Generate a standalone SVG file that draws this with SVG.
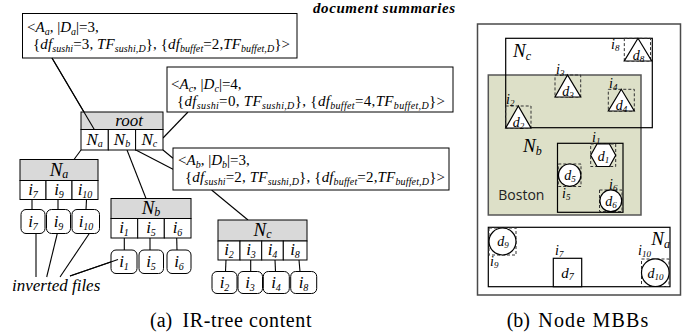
<svg xmlns="http://www.w3.org/2000/svg" width="694" height="336" viewBox="0 0 694 336">
<style>
.t{font-family:"Liberation Serif","Times New Roman",serif;font-size:15px;fill:#000}
.i{font-style:italic}
.s{font-style:italic;font-size:10px}
.big{font-size:17px}
.lbl{font-size:14px}
.lbs{font-style:italic;font-size:9px}
.cap{font-size:20px}
.reg{font-size:19px;font-style:italic}
.regs{font-size:12px;font-style:italic}
.box{fill:#fff;stroke:#000;stroke-width:1}
.hd{fill:#d9d9d9;stroke:#000;stroke-width:1}
.inv{fill:#fff;stroke:#000;stroke-width:1}
.ln{stroke:#000;stroke-width:1.1;fill:none}
.dash{fill:none;stroke:#333;stroke-width:1;stroke-dasharray:3,2}
.shp{fill:#fff;stroke:#000;stroke-width:1.2}
.mbr{fill:none;stroke:#000;stroke-width:1.2}
</style>
<rect width="694" height="336" fill="#fff"/>

<!-- connectors -->
<g id="connectors">
<line class="ln" x1="52" y1="58" x2="94.3" y2="129.5"/>
<line class="ln" x1="188" y1="112" x2="163" y2="138"/>
<line class="ln" x1="133" y1="148.5" x2="173" y2="169.3"/>
<line class="ln" x1="81" y1="150" x2="74" y2="159.5"/>
<line class="ln" x1="127" y1="150" x2="146" y2="198.5"/>
<line class="ln" x1="163" y1="150" x2="173" y2="158.2"/>
<line class="ln" x1="211.6" y1="190" x2="248" y2="220"/>
<line class="ln" x1="32" y1="199.5" x2="32" y2="209.5"/>
<line class="ln" x1="58" y1="199.5" x2="58" y2="209.5"/>
<line class="ln" x1="86.5" y1="199.5" x2="86" y2="209.5"/>
<line class="ln" x1="124.3" y1="238" x2="124.3" y2="250"/>
<line class="ln" x1="150" y1="238" x2="150" y2="250"/>
<line class="ln" x1="176.7" y1="238" x2="177" y2="250"/>
<line class="ln" x1="226" y1="260" x2="225.5" y2="271.5"/>
<line class="ln" x1="250.7" y1="260" x2="250.7" y2="271.5"/>
<line class="ln" x1="275" y1="260" x2="275.5" y2="271.5"/>
<line class="ln" x1="299" y1="260" x2="300" y2="271.5"/>
<line class="ln" x1="36" y1="233.5" x2="36" y2="277"/>
<line class="ln" x1="46.7" y1="277" x2="57.3" y2="233.5"/>
<line class="ln" x1="60" y1="277" x2="89.3" y2="233.5"/>
<line class="ln" x1="70" y1="276" x2="118" y2="259.5"/>
</g>

<text x="455" y="13" class="t i" font-weight="bold" text-anchor="end" textLength="142">document summaries</text>

<!-- summary boxes -->
<g id="summaryA">
<rect x="22.5" y="13.5" width="274.5" height="44.5" class="box"/>
<text x="27" y="32" class="t">&lt;<tspan class="i">A</tspan><tspan class="s" dy="3">a</tspan><tspan dy="-3">, |</tspan><tspan class="i">D</tspan><tspan class="s" dy="3">a</tspan><tspan dy="-3">|=3,</tspan></text>
<text x="33" y="49" class="t" textLength="257" lengthAdjust="spacing">{<tspan class="i">df</tspan><tspan class="s" dy="3">sushi</tspan><tspan dy="-3">=3, </tspan><tspan class="i">TF</tspan><tspan class="s" dy="3">sushi,D</tspan><tspan dy="-3">}, {</tspan><tspan class="i">df</tspan><tspan class="s" dy="3">buffet</tspan><tspan dy="-3">=2,</tspan><tspan class="i">TF</tspan><tspan class="s" dy="3">buffet,D</tspan><tspan dy="-3">}&gt;</tspan></text>
</g>
<g id="summaryC">
<rect x="167" y="67" width="286" height="45" class="box"/>
<text x="171" y="89" class="t">&lt;<tspan class="i">A</tspan><tspan class="s" dy="3">c</tspan><tspan dy="-3">, |</tspan><tspan class="i">D</tspan><tspan class="s" dy="3">c</tspan><tspan dy="-3">|=4,</tspan></text>
<text x="177" y="106" class="t" textLength="268" lengthAdjust="spacing">{<tspan class="i">df</tspan><tspan class="s" dy="3">sushi</tspan><tspan dy="-3">=0, </tspan><tspan class="i">TF</tspan><tspan class="s" dy="3">sushi,D</tspan><tspan dy="-3">}, {</tspan><tspan class="i">df</tspan><tspan class="s" dy="3">buffet</tspan><tspan dy="-3">=4,</tspan><tspan class="i">TF</tspan><tspan class="s" dy="3">buffet,D</tspan><tspan dy="-3">}&gt;</tspan></text>
</g>
<g id="summaryB">
<rect x="173" y="148" width="276" height="42" class="box"/>
<text x="178" y="165" class="t">&lt;<tspan class="i">A</tspan><tspan class="s" dy="3">b</tspan><tspan dy="-3">, |</tspan><tspan class="i">D</tspan><tspan class="s" dy="3">b</tspan><tspan dy="-3">|=3,</tspan></text>
<text x="185" y="182" class="t" textLength="260" lengthAdjust="spacing">{<tspan class="i">df</tspan><tspan class="s" dy="3">sushi</tspan><tspan dy="-3">=2, </tspan><tspan class="i">TF</tspan><tspan class="s" dy="3">sushi,D</tspan><tspan dy="-3">}, {</tspan><tspan class="i">df</tspan><tspan class="s" dy="3">buffet</tspan><tspan dy="-3">=2,</tspan><tspan class="i">TF</tspan><tspan class="s" dy="3">buffet,D</tspan><tspan dy="-3">}&gt;</tspan></text>
</g>

<!-- root node -->
<g id="root">
<rect x="81" y="112" width="82" height="17.5" class="hd"/>
<rect x="81" y="129.5" width="27.3" height="20.5" class="box"/>
<rect x="108.3" y="129.5" width="27.3" height="20.5" class="box"/>
<rect x="135.6" y="129.5" width="27.4" height="20.5" class="box"/>
<line class="ln" x1="52" y1="58" x2="94.3" y2="129.5"/>
<text x="129" y="125.5" class="t i big" text-anchor="middle">root</text>
<text x="94.7" y="145" class="t big" text-anchor="middle"><tspan class="i">N</tspan><tspan class="s" dy="2">a</tspan></text>
<text x="122" y="145" class="t big" text-anchor="middle"><tspan class="i">N</tspan><tspan class="s" dy="2">b</tspan></text>
<text x="149.3" y="145" class="t big" text-anchor="middle"><tspan class="i">N</tspan><tspan class="s" dy="2">c</tspan></text>
</g>

<!-- Na node -->
<g id="Na">
<rect x="20" y="159.5" width="78" height="21" class="hd"/>
<rect x="20" y="180.5" width="26" height="19" class="box"/>
<rect x="46" y="180.5" width="26" height="19" class="box"/>
<rect x="72" y="180.5" width="26" height="19" class="box"/>
<text x="59" y="175.5" class="t reg" text-anchor="middle">N<tspan class="regs" dy="2">a</tspan></text>
<text x="33" y="194.5" class="t big" text-anchor="middle"><tspan class="i">i</tspan><tspan class="s" dy="3">7</tspan></text>
<text x="59" y="194.5" class="t big" text-anchor="middle"><tspan class="i">i</tspan><tspan class="s" dy="3">9</tspan></text>
<text x="85" y="194.5" class="t big" text-anchor="middle"><tspan class="i">i</tspan><tspan class="s" dy="3">10</tspan></text>
</g>
<g id="Na-files">
<rect x="21" y="209.5" width="24" height="24" rx="5" class="inv"/>
<rect x="46.5" y="209.5" width="24" height="24" rx="5" class="inv"/>
<rect x="72" y="209.5" width="27.5" height="24" rx="5" class="inv"/>
<text x="33" y="227" class="t big" text-anchor="middle"><tspan class="i">i</tspan><tspan class="s" dy="3">7</tspan></text>
<text x="58.5" y="227" class="t big" text-anchor="middle"><tspan class="i">i</tspan><tspan class="s" dy="3">9</tspan></text>
<text x="86" y="227" class="t big" text-anchor="middle"><tspan class="i">i</tspan><tspan class="s" dy="3">10</tspan></text>
</g>

<!-- Nb node -->
<g id="Nb">
<rect x="111" y="198.5" width="80" height="20" class="hd"/>
<rect x="111" y="218.5" width="26.7" height="19.5" class="box"/>
<rect x="137.7" y="218.5" width="26.6" height="19.5" class="box"/>
<rect x="164.3" y="218.5" width="26.7" height="19.5" class="box"/>
<text x="151" y="214" class="t reg" text-anchor="middle">N<tspan class="regs" dy="2">b</tspan></text>
<text x="124" y="232.5" class="t big" text-anchor="middle"><tspan class="i">i</tspan><tspan class="s" dy="3">1</tspan></text>
<text x="151" y="232.5" class="t big" text-anchor="middle"><tspan class="i">i</tspan><tspan class="s" dy="3">5</tspan></text>
<text x="177.5" y="232.5" class="t big" text-anchor="middle"><tspan class="i">i</tspan><tspan class="s" dy="3">6</tspan></text>
</g>
<g id="Nb-files">
<rect x="111" y="250" width="26" height="23.5" rx="5" class="inv"/>
<rect x="139" y="250" width="24.5" height="23.5" rx="5" class="inv"/>
<rect x="167" y="250" width="24" height="23.5" rx="5" class="inv"/>
<text x="124" y="267" class="t big" text-anchor="middle"><tspan class="i">i</tspan><tspan class="s" dy="3">1</tspan></text>
<text x="151" y="267" class="t big" text-anchor="middle"><tspan class="i">i</tspan><tspan class="s" dy="3">5</tspan></text>
<text x="179" y="267" class="t big" text-anchor="middle"><tspan class="i">i</tspan><tspan class="s" dy="3">6</tspan></text>
</g>

<!-- Nc node -->
<g id="Nc">
<rect x="218" y="220" width="89" height="21" class="hd"/>
<rect x="218" y="241" width="22" height="19" class="box"/>
<rect x="240" y="241" width="21.7" height="19" class="box"/>
<rect x="261.7" y="241" width="21.6" height="19" class="box"/>
<rect x="283.3" y="241" width="23.7" height="19" class="box"/>
<text x="262.5" y="235.5" class="t reg" text-anchor="middle">N<tspan class="regs" dy="2">c</tspan></text>
<text x="229" y="255" class="t big" text-anchor="middle"><tspan class="i">i</tspan><tspan class="s" dy="3">2</tspan></text>
<text x="251" y="255" class="t big" text-anchor="middle"><tspan class="i">i</tspan><tspan class="s" dy="3">3</tspan></text>
<text x="272.5" y="255" class="t big" text-anchor="middle"><tspan class="i">i</tspan><tspan class="s" dy="3">4</tspan></text>
<text x="295" y="255" class="t big" text-anchor="middle"><tspan class="i">i</tspan><tspan class="s" dy="3">8</tspan></text>
</g>
<g id="Nc-files">
<rect x="212" y="271.5" width="25" height="22" rx="5" class="inv"/>
<rect x="238" y="271.5" width="24.5" height="22" rx="5" class="inv"/>
<rect x="263.3" y="271.5" width="26" height="22" rx="5" class="inv"/>
<rect x="290.7" y="271.5" width="26" height="22" rx="5" class="inv"/>
<text x="224.5" y="287.5" class="t big" text-anchor="middle"><tspan class="i">i</tspan><tspan class="s" dy="3">2</tspan></text>
<text x="250" y="287.5" class="t big" text-anchor="middle"><tspan class="i">i</tspan><tspan class="s" dy="3">3</tspan></text>
<text x="276" y="287.5" class="t big" text-anchor="middle"><tspan class="i">i</tspan><tspan class="s" dy="3">4</tspan></text>
<text x="303.5" y="287.5" class="t big" text-anchor="middle"><tspan class="i">i</tspan><tspan class="s" dy="3">8</tspan></text>
</g>
<line class="ln" x1="70" y1="276" x2="118" y2="259.5"/>

<text x="12" y="291" class="t i big">inverted files</text>

<text x="150" y="327" class="t cap">(a)</text>
<text x="182.5" y="327" class="t cap" textLength="129">IR-tree content</text>

<!-- right panel: Node MBBs -->
<g id="mbb-panel">
<rect x="477.5" y="24" width="203" height="271" fill="#fff" stroke="#4a4a4a" stroke-width="1.5"/>
<rect x="488.3" y="75" width="152.7" height="140" fill="#dde0c8" stroke="#555" stroke-width="1.5"/>
<rect x="505.7" y="38.3" width="146.6" height="89.4" class="mbr"/>
<rect x="557.5" y="143.3" width="65.5" height="69" class="mbr"/>
<rect x="488.3" y="227.3" width="181.7" height="59.4" class="mbr"/>
<text x="513" y="57" class="t reg">N<tspan class="regs" dy="3">c</tspan></text>
<text x="523" y="152" class="t reg">N<tspan class="regs" dy="3">b</tspan></text>
<text x="670" y="245" class="t reg" text-anchor="end">N<tspan class="regs" dy="3">a</tspan></text>
<text x="498.3" y="200" style="font-family:'Open Sans','Noto Sans',sans-serif;font-size:14px;fill:#222">Boston</text>
</g>

<g id="d2">
<rect x="505.7" y="106" width="25.3" height="22" class="dash"/>
<polygon points="518.3,106 505.7,128 531,128" class="shp"/>
<text x="518.5" y="126.5" class="t lbl" text-anchor="middle"><tspan class="i">d</tspan><tspan class="lbs" dy="2">2</tspan></text>
<text x="506" y="104" class="t lbl"><tspan class="i">i</tspan><tspan class="lbs" dy="2">2</tspan></text>
</g>
<g id="d3">
<rect x="555" y="75" width="25.7" height="22" class="dash"/>
<polygon points="567.5,75 555,97 580.7,97" class="shp"/>
<text x="568" y="95.5" class="t lbl" text-anchor="middle"><tspan class="i">d</tspan><tspan class="lbs" dy="2">3</tspan></text>
<text x="556" y="73.5" class="t lbl"><tspan class="i">i</tspan><tspan class="lbs" dy="2">3</tspan></text>
</g>
<g id="d4">
<rect x="608.3" y="89.3" width="26" height="21.7" class="dash"/>
<polygon points="621.3,89.3 608.3,111 634.3,111" class="shp"/>
<text x="621.5" y="109.5" class="t lbl" text-anchor="middle"><tspan class="i">d</tspan><tspan class="lbs" dy="2">4</tspan></text>
<text x="609" y="87.5" class="t lbl"><tspan class="i">i</tspan><tspan class="lbs" dy="2">4</tspan></text>
</g>
<g id="d8">
<rect x="624.3" y="38.3" width="26.2" height="22.7" class="dash"/>
<polygon points="638,38.3 624.3,61 651.7,61" class="shp"/>
<text x="638.5" y="59.5" class="t lbl" text-anchor="middle"><tspan class="i">d</tspan><tspan class="lbs" dy="2">8</tspan></text>
<text x="611" y="49" class="t lbl"><tspan class="i">i</tspan><tspan class="lbs" dy="2">8</tspan></text>
</g>
<g id="d1">
<rect x="590.7" y="144" width="25" height="22.5" class="dash"/>
<polygon points="590.7,155.2 597,144 609.5,144 615.7,155.2 609.5,166.5 597,166.5" class="shp"/>
<text x="603.5" y="161" class="t lbl" text-anchor="middle"><tspan class="i">d</tspan><tspan class="lbs" dy="2">1</tspan></text>
<text x="592" y="142" class="t lbl"><tspan class="i">i</tspan><tspan class="lbs" dy="2">1</tspan></text>
</g>
<g id="d5">
<rect x="558.3" y="164" width="22.7" height="22.5" class="dash"/>
<circle cx="569.7" cy="175.2" r="11.2" class="shp"/>
<text x="570" y="180" class="t lbl" text-anchor="middle"><tspan class="i">d</tspan><tspan class="lbs" dy="2">5</tspan></text>
<text x="562" y="197.5" class="t lbl"><tspan class="i">i</tspan><tspan class="lbs" dy="2">5</tspan></text>
</g>
<g id="d6">
<rect x="599.5" y="190" width="22.5" height="21.5" class="dash"/>
<circle cx="610.8" cy="200.8" r="10.9" class="shp"/>
<text x="611" y="205.5" class="t lbl" text-anchor="middle"><tspan class="i">d</tspan><tspan class="lbs" dy="2">6</tspan></text>
<text x="609" y="188.5" class="t lbl"><tspan class="i">i</tspan><tspan class="lbs" dy="2">6</tspan></text>
</g>
<g id="d9">
<rect x="489" y="228" width="27" height="27" class="dash"/>
<circle cx="502.5" cy="241.5" r="13.5" class="shp"/>
<text x="503" y="246" class="t lbl" text-anchor="middle"><tspan class="i">d</tspan><tspan class="lbs" dy="2">9</tspan></text>
<text x="490" y="265.5" class="t lbl"><tspan class="i">i</tspan><tspan class="lbs" dy="2">9</tspan></text>
</g>
<g id="d7">
<rect x="553.3" y="258.3" width="28.4" height="28.4" class="shp"/>
<text x="567.5" y="278" class="t" text-anchor="middle"><tspan class="i">d</tspan><tspan class="s" dy="2">7</tspan></text>
<text x="555" y="255" class="t lbl"><tspan class="i">i</tspan><tspan class="lbs" dy="2">7</tspan></text>
</g>
<g id="d10">
<rect x="641.5" y="259" width="27.5" height="27.5" class="dash"/>
<circle cx="655.3" cy="272.7" r="13.8" class="shp"/>
<text x="655.5" y="277.5" class="t lbl" text-anchor="middle"><tspan class="i">d</tspan><tspan class="lbs" dy="2">10</tspan></text>
<text x="638" y="255" class="t lbl"><tspan class="i">i</tspan><tspan class="lbs" dy="2">10</tspan></text>
</g>

<text x="506.7" y="327" class="t cap">(b)</text>
<text x="538.3" y="327" class="t cap" textLength="110">Node MBBs</text>
</svg>
